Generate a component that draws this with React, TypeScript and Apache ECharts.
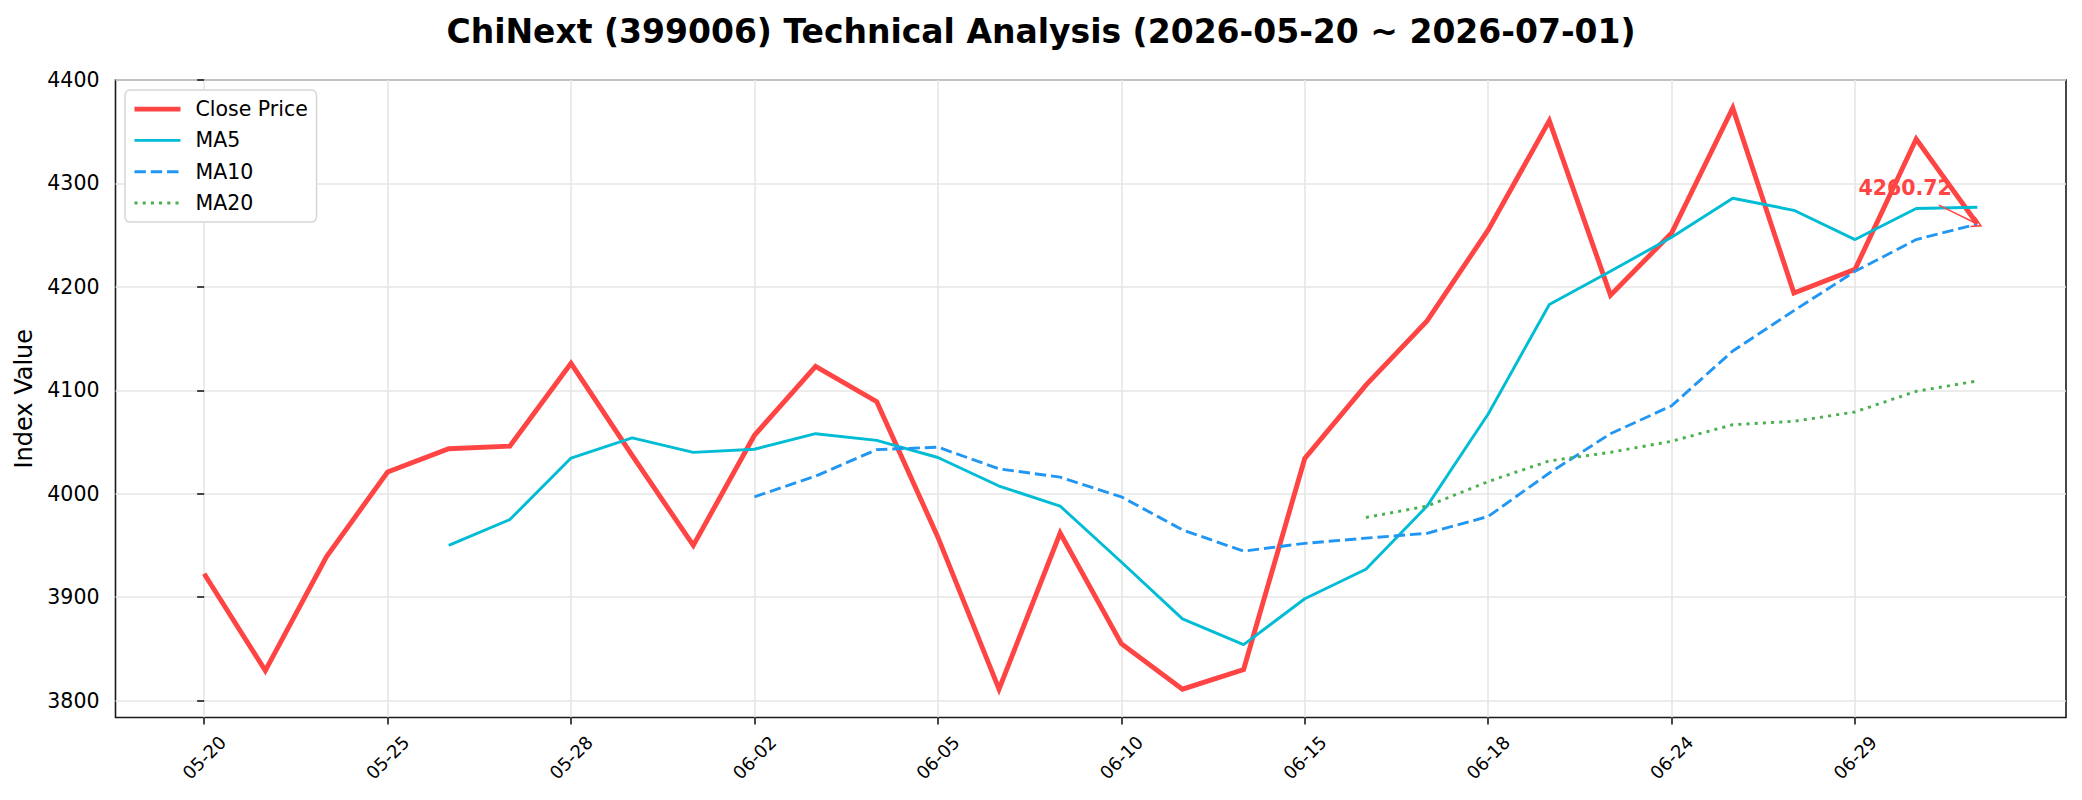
import React, { useEffect, useRef } from "react";
import * as echarts from "echarts";

const TITLE = "ChiNext (399006) Technical Analysis (2026-05-20 ~ 2026-07-01)";

const dates = [
  "05-20", "05-21", "05-22", "05-25", "05-26", "05-27", "05-28", "05-29", "06-01", "06-02",
  "06-03", "06-04", "06-05", "06-08", "06-09", "06-10", "06-11", "06-12", "06-15", "06-16",
  "06-17", "06-18", "06-22", "06-23", "06-24", "06-25", "06-26", "06-29", "06-30", "07-01",
];

const closePrice = [
  3922.6, 3829, 3939, 4021, 4043.5, 4046, 4126, 4037, 3950, 4056.5,
  4123, 4089, 3958, 3811, 3962, 3855, 3811, 3830, 4034, 4105,
  4167, 4255, 4360.7, 4192, 4252, 4373, 4194, 4217, 4343, 4260.72,
];

const ma5 = [
  null, null, null, null, 3950, 3975, 4034.5, 4054, 4040, 4043,
  4058, 4051.6, 4035, 4007.4, 3988, 3934, 3879, 3854, 3898.4, 3927,
  3988, 4077, 4183, 4215, 4248, 4285.7, 4274, 4245.7, 4275.7, 4277,
];

const ma10 = [
  null, null, null, null, null, null, null, null, null, 3997,
  4017, 4042.6, 4045, 4024, 4016, 3997, 3965, 3944.5, 3952, 3957,
  3961.7, 3978, 4020, 4058, 4085, 4138, 4177, 4215, 4245.7, 4260.7,
];

const ma20 = [
  null, null, null, null, null, null, null, null, null, null,
  null, null, null, null, null, null, null, null, null, 3977,
  3988, 4011.7, 4031.7, 4040, 4050.7, 4066.7, 4070, 4079, 4099, 4109,
];

const xTickIdx = [0, 3, 6, 9, 12, 15, 18, 21, 24, 27];
const yTicks = [3800, 3900, 4000, 4100, 4200, 4300, 4400];

// annotation anchor (text centre and arrow tail), in data coordinates
const annotText = [27.82, 4296];
const annotTail = [28.37, 4279];

const FONT = "'DejaVu Sans', Verdana, sans-serif";
const RED = "#FF4444";
const CYAN = "#00BCD4";
const BLUE = "#2196F3";
const GREEN = "#4CAF50";
const AXIS = "#1a1a1a";
const GRIDC = "#e6e6e6";

const toPairs = (arr: (number | null)[]) =>
  arr.map((v, i) => [i, v]).filter((p) => p[1] !== null);

export default function App() {
  const ref = useRef<HTMLDivElement>(null);

  useEffect(() => {
    if (!ref.current) return;
    const chart = echarts.init(ref.current, null, { renderer: "svg" });
    const lastIdx = closePrice.length - 1;
    const lastVal = closePrice[lastIdx];

    const option: any = {
      animation: false,
      backgroundColor: "#ffffff",
      title: {
        text: TITLE,
        left: "center",
        top: 10,
        textStyle: { fontFamily: FONT, fontSize: 33, fontWeight: "bold", color: "#000" },
      },
      grid: {
        left: 115.5,
        right: 16,
        top: 80,
        bottom: 82.5,
        show: true,
        borderColor: AXIS,
        borderWidth: 1.6,
        backgroundColor: "transparent",
        containLabel: false,
        outerBoundsMode: "none",
      },
      legend: {
        orient: "vertical",
        left: 125,
        top: 90,
        padding: [8.6, 8.7, 8.6, 7],
        itemWidth: 46,
        itemHeight: 14,
        itemGap: 10.3,
        backgroundColor: "#ffffff",
        borderColor: "#d6d6d6",
        borderWidth: 1.5,
        borderRadius: 5,
        itemStyle: { opacity: 0 },
        lineStyle: { width: "inherit", opacity: 1 },
        textStyle: { fontFamily: FONT, fontSize: 20.5, color: "#000", lineHeight: 20, padding: [0, 0, 0, 10] },
        data: ["Close Price", "MA5", "MA10", "MA20"],
      },
      xAxis: {
        type: "value",
        min: -1.45,
        max: 30.45,
        axisLine: { show: false },
        axisTick: {
          show: true,
          customValues: xTickIdx,
          length: 7,
          lineStyle: { color: AXIS, width: 1.6 },
        },
        axisLabel: {
          customValues: xTickIdx,
          formatter: (v: number) => dates[Math.round(v)] ?? "",
          rotate: 45,
          align: "center",
          verticalAlign: "middle",
          margin: 40,
          fontSize: 18,
          color: "#000",
          fontFamily: FONT,
        },
        splitLine: { show: true, lineStyle: { color: GRIDC, width: 1.6 } },
      },
      yAxis: {
        type: "value",
        min: 3783.6,
        max: 4400,
        name: "Index Value",
        nameLocation: "middle",
        nameGap: 78,
        nameTextStyle: { fontFamily: FONT, fontSize: 24, color: "#000" },
        axisLine: { show: false },
        axisTick: {
          show: true,
          customValues: yTicks,
          length: 7,
          lineStyle: { color: AXIS, width: 1.6 },
        },
        axisLabel: {
          customValues: yTicks,
          formatter: (v: number) => String(Math.round(v)),
          margin: 16,
          fontSize: 20.5,
          color: "#000",
          fontFamily: FONT,
        },
        splitLine: { show: true, lineStyle: { color: GRIDC, width: 1.6 } },
      },
      series: [
        {
          name: "Close Price",
          type: "line",
          data: toPairs(closePrice),
          symbol: "none",
          showSymbol: false,
          color: RED,
          lineStyle: { color: RED, width: 4.9, join: "miter" },
          z: 2,
          markLine: {
            silent: true,
            symbol: ["none", "path://M0,10 L5,0 L10,10 L8.8,10.6 L5,3 L1.2,10.6 Z"],
            symbolSize: [12, 11],
            label: { show: false },
            lineStyle: { color: RED, width: 1.5, type: "solid" },
            emphasis: { disabled: true },
            data: [[{ coord: annotTail }, { coord: [lastIdx, lastVal] }]],
          },
          markPoint: {
            silent: true,
            symbol: "rect",
            symbolSize: 1,
            itemStyle: { color: "rgba(0,0,0,0)" },
            label: {
              show: true,
              position: "inside",
              formatter: lastVal.toFixed(2),
              color: RED,
              fontWeight: "bold",
              fontSize: 20.5,
              fontFamily: FONT,
            },
            data: [{ coord: annotText }],
          },
        },
        {
          name: "MA5",
          type: "line",
          data: toPairs(ma5),
          symbol: "none",
          showSymbol: false,
          color: CYAN,
          lineStyle: { color: CYAN, width: 2.9 },
          z: 3,
        },
        {
          name: "MA10",
          type: "line",
          data: toPairs(ma10),
          symbol: "none",
          showSymbol: false,
          color: BLUE,
          lineStyle: { color: BLUE, width: 2.9, type: [11.4, 4.9] },
          z: 4,
        },
        {
          name: "MA20",
          type: "line",
          data: toPairs(ma20),
          symbol: "none",
          showSymbol: false,
          color: GREEN,
          lineStyle: { color: GREEN, width: 2.9, type: [3.1, 5.1] },
          z: 5,
        },
      ],
    };

    chart.setOption(option);
    return () => chart.dispose();
  }, []);

  return (
    <div
      ref={ref}
      style={{ position: "fixed", left: 0, top: 0, width: 2082, height: 800, background: "#fff" }}
    />
  );
}
